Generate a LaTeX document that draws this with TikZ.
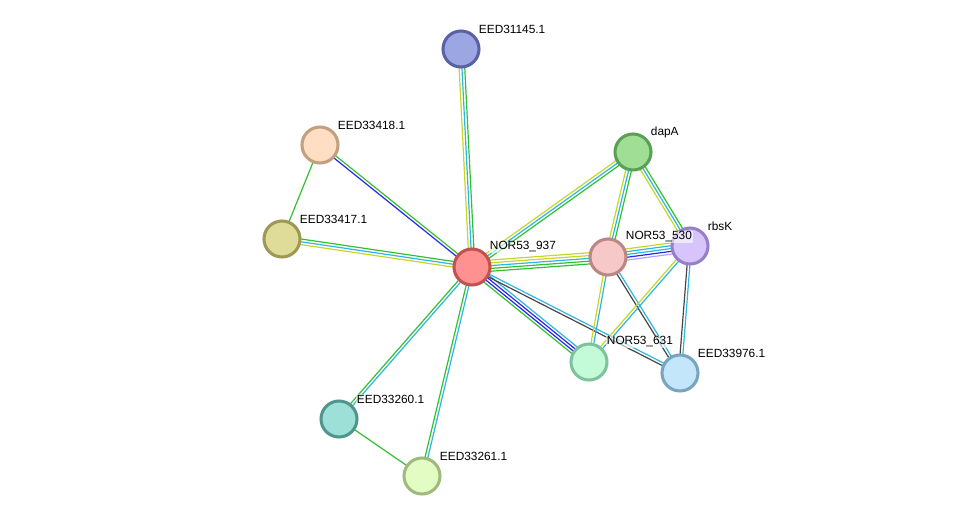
\documentclass[tikz,border=0pt]{standalone}
\usepackage{fontspec}
\setmainfont{Liberation Sans}
\usetikzlibrary{calc,backgrounds}

% evidence colours
\definecolor{txtm}{RGB}{196,214,40}
\definecolor{dbase}{RGB}{45,182,226}
\definecolor{nbhd}{RGB}{50,192,50}
\definecolor{cooc}{RGB}{40,40,235}
\definecolor{coex}{RGB}{70,70,70}
\definecolor{homol}{RGB}{175,165,250}

\tikzset{
  prot/.style={circle, minimum size=27pt, inner sep=0pt, line width=2.3pt},
  plabel/.style={anchor=west, font=\fontsize{8.9}{10}\selectfont, fill=white,
    fill opacity=0.6, text opacity=1, inner sep=0.5pt},
  evid/.style={line width=0.9pt}
}

% parallel evidence lines between two nodes: offset/colour pairs
\newcommand{\link}[3]{%
  \foreach \o/\c in {#3}
    \draw[evid,\c] ($(#1.center)!\o*2.1pt!90:(#2.center)$) -- ($(#2.center)!\o*2.1pt!-90:(#1.center)$);
}

\begin{document}
\begin{tikzpicture}[x=0.75pt,y=-0.75pt]
  \useasboundingbox (0,0) rectangle (976,522);

  % Proteins
  \node[prot, fill={rgb,255:red,255;green,145;blue,145}, draw={rgb,255:red,192;green,82;blue,82}] (n937) at (472,267) {};
  \node[prot, fill={rgb,255:red,155;green,166;blue,226}, draw={rgb,255:red,88;green,98;blue,164}] (n31145) at (461,49) {};
  \node[prot, fill={rgb,255:red,255;green,222;blue,195}, draw={rgb,255:red,195;green,160;blue,125}] (n33418) at (320,145) {};
  \node[prot, fill={rgb,255:red,222;green,220;blue,152}, draw={rgb,255:red,158;green,152;blue,84}] (n33417) at (282,239) {};
  \node[prot, fill={rgb,255:red,160;green,222;blue,150}, draw={rgb,255:red,90;green,160;blue,85}] (dapA) at (633,152) {};
  \node[prot, fill={rgb,255:red,247;green,200;blue,200}, draw={rgb,255:red,188;green,134;blue,134}] (n530) at (608,257) {};
  \node[prot, fill={rgb,255:red,215;green,196;blue,250}, draw={rgb,255:red,150;green,128;blue,200}] (rbsK) at (690,246) {};
  \node[prot, fill={rgb,255:red,195;green,250;blue,216}, draw={rgb,255:red,128;green,194;blue,158}] (n631) at (589,362) {};
  \node[prot, fill={rgb,255:red,195;green,230;blue,250}, draw={rgb,255:red,122;green,164;blue,190}] (n33976) at (680,373) {};
  \node[prot, fill={rgb,255:red,156;green,224;blue,215}, draw={rgb,255:red,80;green,150;blue,140}] (n33260) at (339,419) {};
  \node[prot, fill={rgb,255:red,226;green,252;blue,196}, draw={rgb,255:red,160;green,186;blue,126}] (n33261) at (422,476) {};

  % Labels
  \node[plabel] (l937) at ($(n937)+(17,-20)$) {NOR53\_937};
  \node[plabel] (l31145) at ($(n31145)+(17,-20)$) {EED31145.1};
  \node[plabel] (l33418) at ($(n33418)+(17,-20)$) {EED33418.1};
  \node[plabel] (l33417) at ($(n33417)+(17,-20)$) {EED33417.1};
  \node[plabel] (ldapA) at ($(dapA)+(17,-20)$) {dapA};
  \node[plabel] (l530) at ($(n530)+(17,-20)$) {NOR53\_530};
  \node[plabel] (lrbsK) at ($(rbsK)+(17,-20)$) {rbsK};
  \node[plabel] (l631) at ($(n631)+(17,-20)$) {NOR53\_631};
  \node[plabel] (l33976) at ($(n33976)+(17,-20)$) {EED33976.1};
  \node[plabel] (l33260) at ($(n33260)+(17,-20)$) {EED33260.1};
  \node[plabel] (l33261) at ($(n33261)+(17,-20)$) {EED33261.1};

  % Edges
  \begin{scope}[on background layer]
    \link{n937}{n31145}{1/txtm,0/dbase,-1/nbhd}
    \link{n937}{n33418}{0.5/cooc,-0.5/nbhd}
    \link{n937}{n33417}{1/txtm,0/dbase,-1/nbhd}
    \link{n33418}{n33417}{0/nbhd}
    \link{n937}{dapA}{1/txtm,0/dbase,-1/nbhd}
    \link{n937}{n530}{2/txtm,1/txtm,0/dbase,-1/nbhd,-2/nbhd}
    \link{n530}{rbsK}{2/txtm,1/dbase,0/dbase,-1/cooc,-2/homol}
    \link{n530}{dapA}{1/txtm,0/dbase,-1/nbhd}
    \link{dapA}{rbsK}{1/nbhd,0/dbase,-1/txtm}
    \link{n937}{n631}{1.5/dbase,0.5/cooc,-0.5/cooc,-1.5/nbhd}
    \link{n937}{n33976}{0.5/dbase,-0.5/coex}
    \link{n530}{n631}{0.5/dbase,-0.5/txtm}
    \link{n530}{n33976}{0.5/dbase,-0.5/coex}
    \link{rbsK}{n631}{0.5/dbase,-0.5/txtm}
    \link{rbsK}{n33976}{0.5/dbase,-0.5/coex}
    \link{n937}{n33260}{0.5/dbase,-0.5/nbhd}
    \link{n937}{n33261}{0.5/dbase,-0.5/nbhd}
    \link{n33260}{n33261}{0/nbhd}
  \end{scope}
\end{tikzpicture}
\end{document}
